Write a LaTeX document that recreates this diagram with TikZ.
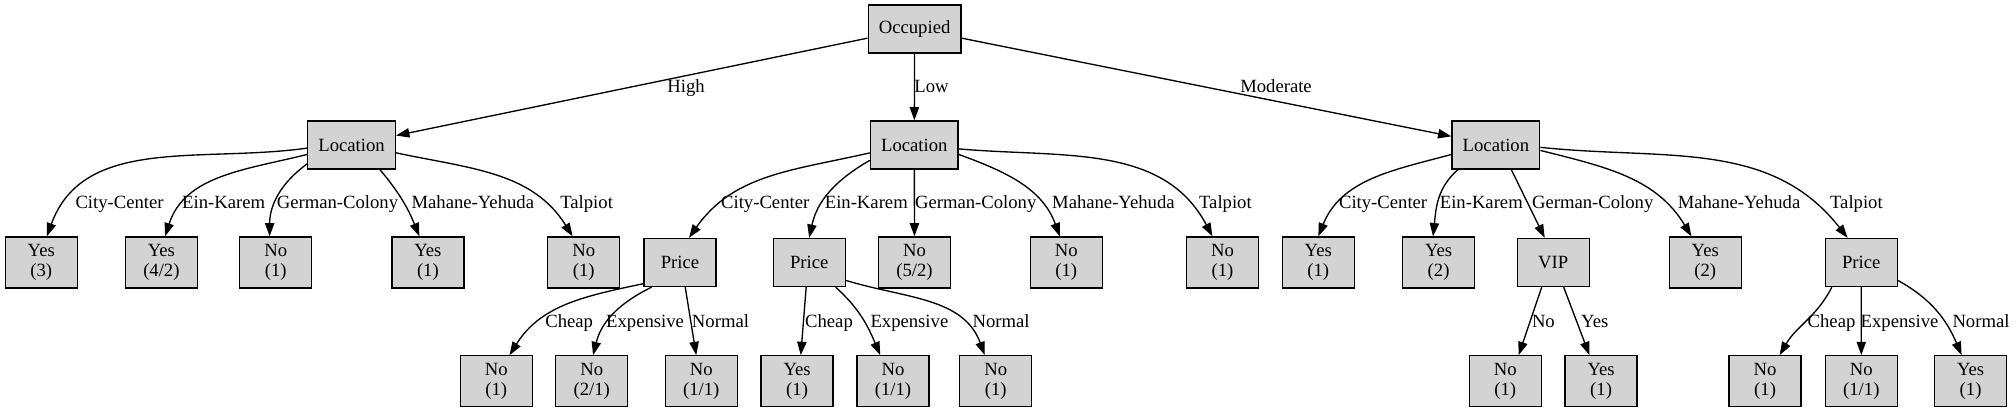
\documentclass[tikz,border=0pt]{standalone}
\usepackage{fontspec}
\setmainfont{Liberation Serif}
\usetikzlibrary{arrows.meta}
\definecolor{nodegrey}{HTML}{D3D3D3}

\begin{document}
\begin{tikzpicture}[x=0.75pt,y=-0.75pt,->,>={Triangle[length=10pt,width=7pt]},line width=1pt,
                    split node/.style={rectangle,draw,fill=nodegrey,font=\fontsize{14}{14.5}\selectfont,
                                       minimum width=54pt,minimum height=36pt,inner xsep=8pt},
                    leaf node/.style={split node,align=center,minimum height=38.25pt,inner ysep=2pt},
                    lbl/.style={font=\fontsize{14}{14.5}\selectfont,anchor=base,inner sep=0pt}]

  \useasboundingbox (0,0) rectangle (2016,412);

  \node[split node] (root) at (914.6,29) {Occupied};

  \node[split node] (lh) at (351.6,145) {Location};
  \node[split node] (ll) at (914.3,145) {Location};
  \node[split node] (lm) at (1495.9,145) {Location};

  % under High
  \node[leaf node] (hcc) at (41.3,262.5) {Yes\\(3)};
  \node[leaf node] (hek) at (161.4,262.5) {Yes\\(4/2)};
  \node[leaf node] (hgc) at (275.7,262.5) {No\\(1)};
  \node[leaf node] (hmy) at (427.9,262.5) {Yes\\(1)};
  \node[leaf node] (hta) at (583.7,262.5) {No\\(1)};

  % under Low
  \node[split node] (lcc) at (680,262.5) {Price};
  \node[split node] (lek) at (809.2,262.5) {Price};
  \node[leaf node] (lgc) at (914.5,262.5) {No\\(5/2)};
  \node[leaf node] (lmy) at (1066.3,262.5) {No\\(1)};
  \node[leaf node] (lta) at (1222.5,262.5) {No\\(1)};

  % under Moderate
  \node[leaf node] (mcc) at (1318.3,262.5) {Yes\\(1)};
  \node[leaf node] (mek) at (1438.6,262.5) {Yes\\(2)};
  \node[split node] (mgc) at (1553.2,262.5) {VIP};
  \node[leaf node] (mmy) at (1705.3,262.5) {Yes\\(2)};
  \node[split node] (mta) at (1861.2,262.5) {Price};

  \node[leaf node] (lcc1) at (496.2,381.3) {No\\(1)};
  \node[leaf node] (lcc2) at (591.7,381.3) {No\\(2/1)};
  \node[leaf node] (lcc3) at (701.3,381.3) {No\\(1/1)};
  \node[leaf node] (lek1) at (797.1,381.3) {Yes\\(1)};
  \node[leaf node] (lek2) at (893,381.3) {No\\(1/1)};
  \node[leaf node] (lek3) at (995.8,381.3) {No\\(1)};
  \node[leaf node] (mgc1) at (1505.3,381.3) {No\\(1)};
  \node[leaf node] (mgc2) at (1601.1,381.3) {Yes\\(1)};
  \node[leaf node] (mta1) at (1765.1,381.3) {No\\(1)};
  \node[leaf node] (mta2) at (1861.3,381.3) {No\\(1/1)};
  \node[leaf node] (mta3) at (1970.6,381.3) {Yes\\(1)};

  % edge labels
  \node[lbl] (high) at (686,92) {High};
  \node[lbl] (low) at (931.5,92) {Low};
  \node[lbl] (moderate) at (1276,92) {Moderate};

  \node[lbl] (lhcc) at (119.6,208) {City-Center};
  \node[lbl] (lhek) at (223.7,208) {Ein-Karem};
  \node[lbl] (lhgc) at (337.5,208) {German-Colony};
  \node[lbl] (lhmy) at (472.8,208) {Mahane-Yehuda};
  \node[lbl] (lhta) at (586.6,208) {Talpiot};

  \node[lbl] (llcc) at (765.2,208) {City-Center};
  \node[lbl] (llek) at (866.3,208) {Ein-Karem};
  \node[lbl] (llgc) at (975.7,208) {German-Colony};
  \node[lbl] (llmy) at (1113.4,208) {Mahane-Yehuda};
  \node[lbl] (llta) at (1225.4,208) {Talpiot};

  \node[lbl] (lmcc) at (1383.1,208) {City-Center};
  \node[lbl] (lmek) at (1481.3,208) {Ein-Karem};
  \node[lbl] (lmgc) at (1592.7,208) {German-Colony};
  \node[lbl] (lmmy) at (1739,208) {Mahane-Yehuda};
  \node[lbl] (lmta) at (1856.4,208) {Talpiot};

  \node[lbl] (plcc1) at (569.2,327.5) {Cheap};
  \node[lbl] (plcc2) at (645.1,327.5) {Expensive};
  \node[lbl] (plcc3) at (720.5,327.5) {Normal};
  \node[lbl] (plek1) at (829,327.5) {Cheap};
  \node[lbl] (plek2) at (909.4,327.5) {Expensive};
  \node[lbl] (plek3) at (1001.1,327.5) {Normal};
  \node[lbl] (pmgc1) at (1543.4,327.5) {No};
  \node[lbl] (pmgc2) at (1594.8,327.5) {Yes};
  \node[lbl] (pmta1) at (1831.5,327.5) {Cheap};
  \node[lbl] (pmta2) at (1899.6,327.5) {Expensive};
  \node[lbl] (pmta3) at (1981,327.5) {Normal};

  \path
    (root.191) edge (lh.12)
    (root) edge (ll)
    (root.349) edge (lm.169)

    (lh.184) edge[out=188,in=70] (hcc.78)
    (lh.192) edge[out=194,in=72] (hek.82)
    (lh.203) edge[out=216,in=90] (hgc.103)
    (lh.319) edge[out=310,in=112] (hmy.108)
    (lh.350) edge[out=348,in=122] (hta.113)

    (ll.190) edge[out=193,in=55] (lcc.70)
    (ll.199) edge[out=210,in=78] (lek.90)
    (ll) edge (lgc)
    (ll.348) edge[out=340,in=110] (lmy.104)
    (ll.355) edge[out=355,in=118] (lta.111)

    (lm.192) edge[out=195,in=68] (mcc.90)
    (lm.213) edge[out=221,in=84] (mek.102)
    (lm.302) edge (mgc.109)
    (lm.353) edge[out=346,in=121] (mmy.118)
    (lm.357) edge[out=354,in=128] (mta.119)

    (lcc.210) edge[out=192,in=58] (lcc1.63)
    (lcc.221) edge[out=206,in=76] (lcc2.87)
    (lcc.282) edge (lcc3.101)
    (lek.263) edge (lek1.82)
    (lek.317) edge[out=318,in=113] (lek2.116)
    (lek.334) edge[out=343,in=110] (lek3.113)
    (mgc.245) edge (mgc1.63)
    (mgc.293) edge (mgc2.114)
    (mta.220) edge[out=243,in=60] (mta1.61)
    (mta) edge (mta2)
    (mta.334) edge[out=331,in=113] (mta3.109)
    ;
\end{tikzpicture}
\end{document}
